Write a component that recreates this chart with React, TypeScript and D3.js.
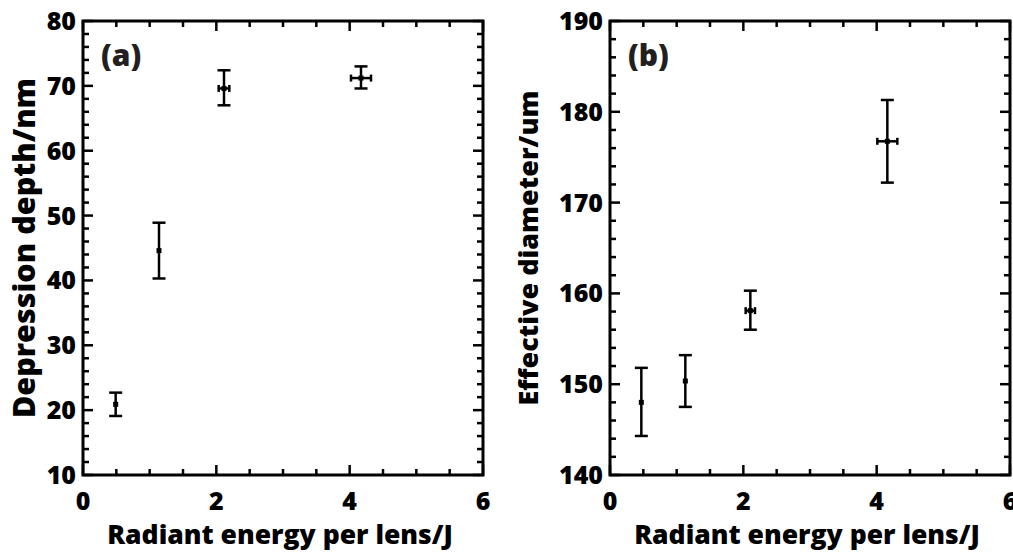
import React from "react";
import * as d3 from "d3";

// ---- data ----
const energyA = [0.49, 1.14, 2.115, 4.17];
const depth = [20.9, 44.6, 69.6, 71.2];
const depthLow = [19.1, 40.3, 67.0, 69.6];
const depthHigh = [22.7, 48.9, 72.4, 73.0];
const energyErrA = [0.02, 0.02, 0.08, 0.15];

const energyB = [0.47, 1.13, 2.105, 4.16];
const diameter = [148.0, 150.35, 158.1, 176.75];
const diameterLow = [144.3, 147.5, 156.0, 172.2];
const diameterHigh = [151.8, 153.2, 160.3, 181.3];
const energyErrB = [0.02, 0.02, 0.07, 0.15];

const xTicks = [0, 2, 4, 6];
const yTicksA = [10, 20, 30, 40, 50, 60, 70, 80];
const yTicksB = [140, 150, 160, 170, 180, 190];

const FONT = "'Open Sans', 'DejaVu Sans', sans-serif";
const W = 800;

type PanelProps = {
  left: number; right: number; top: number; bottom: number;
  yDomain: [number, number]; yTicks: number[]; yMinorStep: number;
  xs: number[]; ys: number[]; lo: number[]; hi: number[]; xe: number[];
  label: string; yTitle: string; yTitleX: number; yTitleSize: number;
};

function Panel(p: PanelProps) {
  const x = d3.scaleLinear().domain([0, 6]).range([p.left, p.right]);
  const y = d3.scaleLinear().domain(p.yDomain).range([p.bottom, p.top]);
  const xMinor = d3.range(0, 6.0001, 0.5).filter((v) => Math.abs(v % 2) > 1e-6);
  const yMinor = d3
    .range(p.yDomain[0], p.yDomain[1] + 1e-6, p.yMinorStep)
    .filter((v) => Math.abs(v % 10) > 1e-6);
  const MAJ = 10, MIN = 6;
  const tickStroke = { stroke: "#000", strokeWidth: 2.5 };
  const cap = 6.5, xcap = 3.5;
  return (
    <g>
      {xTicks.map((v) => (
        <g key={"xm" + v}>
          <line x1={x(v)} x2={x(v)} y1={p.bottom} y2={p.bottom - MAJ} {...tickStroke} />
          <line x1={x(v)} x2={x(v)} y1={p.top} y2={p.top + MAJ} {...tickStroke} />
          <text x={x(v)} y={p.bottom + 35} textAnchor="middle" fontFamily={FONT} fontWeight={W} fontSize={25}>{v}</text>
        </g>
      ))}
      {xMinor.map((v) => (
        <g key={"xn" + v}>
          <line x1={x(v)} x2={x(v)} y1={p.bottom} y2={p.bottom - MIN} {...tickStroke} />
          <line x1={x(v)} x2={x(v)} y1={p.top} y2={p.top + MIN} {...tickStroke} />
        </g>
      ))}
      {p.yTicks.map((v) => (
        <g key={"ym" + v}>
          <line x1={p.left} x2={p.left + MAJ} y1={y(v)} y2={y(v)} {...tickStroke} />
          <line x1={p.right} x2={p.right - MAJ} y1={y(v)} y2={y(v)} {...tickStroke} />
          <text x={p.left - 7} y={y(v) + 9} textAnchor="end" fontFamily={FONT} fontWeight={W} fontSize={25}>{v}</text>
        </g>
      ))}
      {yMinor.map((v) => (
        <g key={"yn" + v}>
          <line x1={p.left} x2={p.left + MIN} y1={y(v)} y2={y(v)} {...tickStroke} />
          <line x1={p.right} x2={p.right - MIN} y1={y(v)} y2={y(v)} {...tickStroke} />
        </g>
      ))}
      <rect x={p.left} y={p.top} width={p.right - p.left} height={p.bottom - p.top} fill="none" stroke="#000" strokeWidth={3} />
      {p.xs.map((xv, i) => {
        const cx = x(xv), cy = y(p.ys[i]);
        const xl = x(xv - p.xe[i]), xr = x(xv + p.xe[i]);
        return (
          <g key={"pt" + i} stroke="#000" strokeWidth={2.5}>
            <line x1={cx} x2={cx} y1={y(p.lo[i])} y2={y(p.hi[i])} />
            <line x1={cx - cap} x2={cx + cap} y1={y(p.lo[i])} y2={y(p.lo[i])} />
            <line x1={cx - cap} x2={cx + cap} y1={y(p.hi[i])} y2={y(p.hi[i])} />
            <line x1={xl} x2={xr} y1={cy} y2={cy} />
            {p.xe[i] > 0.05 && (
              <>
                <line x1={xl} x2={xl} y1={cy - xcap} y2={cy + xcap} />
                <line x1={xr} x2={xr} y1={cy - xcap} y2={cy + xcap} />
              </>
            )}
            <rect x={cx - 2.5} y={cy - 2.5} width={5} height={5} fill="#000" stroke="none" />
          </g>
        );
      })}
      <text x={p.left + 18} y={p.top + 45} fontFamily={FONT} fontWeight={W} fontSize={30} fill="#231f20">{p.label}</text>
      <text
        transform={`translate(${p.yTitleX},${(p.top + p.bottom) / 2}) rotate(-90)`}
        textAnchor="middle" fontFamily={FONT} fontWeight={W} fontSize={p.yTitleSize}
      >{p.yTitle}</text>
      <text x={(p.left + p.right) / 2 - 3} y={544} textAnchor="middle" fontFamily={FONT} fontWeight={W} fontSize={26.5}>
        Radiant energy per lens/J
      </text>
    </g>
  );
}

export default function App() {
  return (
    <svg width={1013} height={552} style={{ position: "absolute", left: 0, top: 0, background: "#fff" }}>
      <Panel left={83} right={483} top={21} bottom={475} yDomain={[10, 80]} yTicks={yTicksA} yMinorStep={2}
        xs={energyA} ys={depth} lo={depthLow} hi={depthHigh} xe={energyErrA}
        label="(a)" yTitle="Depression depth/nm" yTitleX={35} yTitleSize={30.5} />
      <Panel left={610} right={1010} top={21} bottom={475} yDomain={[140, 190]} yTicks={yTicksB} yMinorStep={2}
        xs={energyB} ys={diameter} lo={diameterLow} hi={diameterHigh} xe={energyErrB}
        label="(b)" yTitle="Effective diameter/um" yTitleX={538} yTitleSize={27} />
    </svg>
  );
}
